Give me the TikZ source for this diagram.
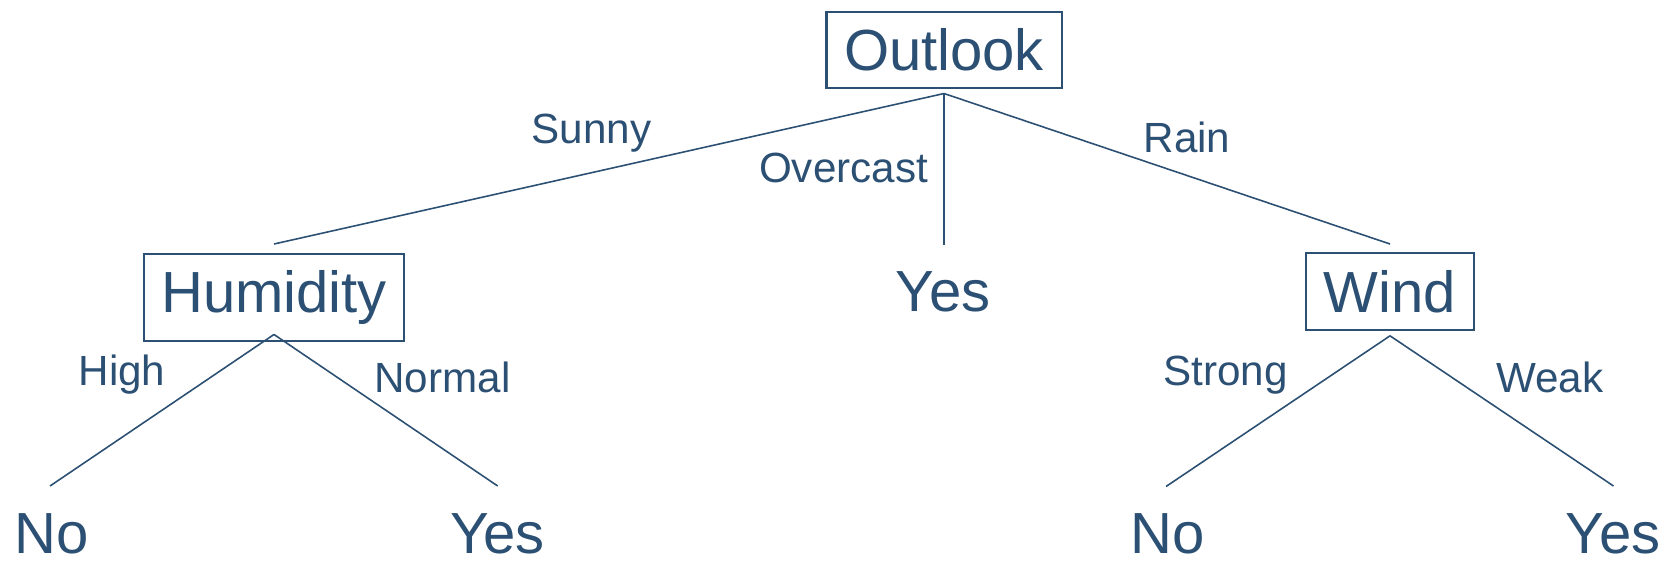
\documentclass[tikz,border=0pt]{standalone}
\usepackage{fontspec}
\setmainfont{Liberation Sans}
\definecolor{treeblue}{RGB}{44,80,115}

\begin{document}
\begin{tikzpicture}[x=0.01cm,y=-0.01cm,
  every node/.style={text=treeblue},
  attr/.style={draw=treeblue,line width=0.6pt,inner xsep=5pt,inner ysep=4.8pt,anchor=base,font=\fontsize{16.5}{18}\selectfont},
  leaf/.style={inner sep=0pt,anchor=base,font=\fontsize{16.5}{18}\selectfont},
  val/.style={inner sep=0pt,anchor=base,font=\fontsize{12}{14}\selectfont},
  branch/.style={draw=treeblue,line width=0.45pt}]
\useasboundingbox (0,0) rectangle (1680,560);

\node[attr](O) at (944,70.5){Outlook};
\node[attr](H) at (274,312.5){Humidity};
\node[leaf](Y) at (943,311.5){Yes};
\node[attr](W) at (1390,312.3){Wind};

\node[leaf](HN) at (52,553){No};
\node[leaf](HY) at (497.5,553){Yes};
\node[leaf](WN) at (1168,553){No};
\node[leaf](WY) at (1613,553){Yes};

% branch ends
\coordinate(sunny) at (274,244);
\coordinate(overcast) at (944,245);
\coordinate(rain) at (1390,244);
\coordinate(high) at (50,486);
\coordinate(normal) at (497.7,486);
\coordinate(strong) at (1166,486.5);
\coordinate(weak) at (1613.5,486);

\draw[branch] ([yshift=-0.045cm]O.south) -- (sunny);
\draw[branch] ([yshift=-0.045cm]O.south) -- (overcast);
\draw[branch] ([yshift=-0.045cm]O.south) -- (rain);
\draw[branch] ([yshift=0.08cm]H.south) -- (high);
\draw[branch] ([yshift=0.08cm]H.south) -- (normal);
\draw[branch] ([yshift=-0.05cm]W.south) -- (strong);
\draw[branch] ([yshift=-0.05cm]W.south) -- (weak);

\node[val] at (591.5,143.5){Sunny};
\node[val] at (843.5,182.7){Overcast};
\node[val] at (1187,152.3){Rain};
\node[val] at (122,385){High};
\node[val] at (442.5,392.7){Normal};
\node[val] at (1225.5,385){Strong};
\node[val] at (1549.7,392.7){Weak};

\end{tikzpicture}
\end{document}
